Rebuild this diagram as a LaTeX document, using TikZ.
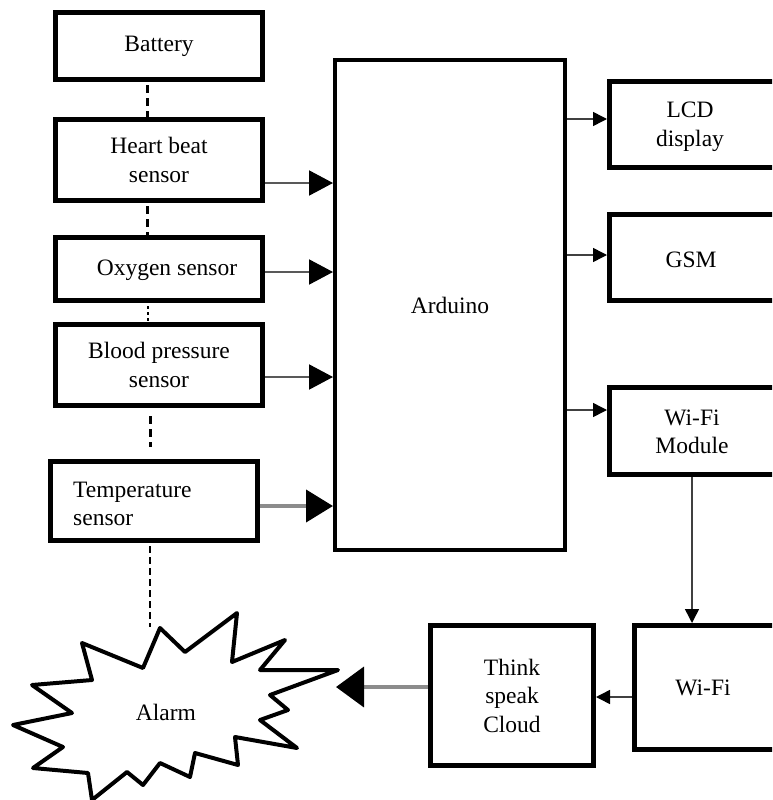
\documentclass[tikz,border=0pt]{standalone}
\usepackage{fontspec}
\setmainfont{Liberation Serif}
\usetikzlibrary{arrows.meta}
\begin{document}
\begin{tikzpicture}[x=1pt,y=-1pt,
  box/.style={draw, line width=5pt, fill=white, inner sep=0pt, font=\fontsize{23.5}{28.5}\selectfont, align=center},
  txt/.style={font=\fontsize{23.5}{28.5}\selectfont, align=center, inner sep=0pt},
  dsh/.style={line width=3pt, dash pattern=on 8pt off 5pt},
  bigarrow/.style={draw=black!65, line width=2pt, -{Triangle[length=24pt,width=25pt,color=black]}},
  grayarrow/.style={draw=black!45, line width=4pt, -{Triangle[length=27pt,width=32pt,color=black]}},
  smallarrow/.style={draw=black!75, line width=1.5pt, -{Triangle[length=14pt,width=14pt,color=black]}}]
\useasboundingbox (0,0) rectangle (772,800);
\clip (0,0) rectangle (772,800);

% left column boxes
\node[box, minimum width=207pt, minimum height=67pt] (battery) at (159,46) {Battery};
\node[box, minimum width=207pt, minimum height=81pt] (heart) at (159,160) {Heart beat\\sensor};
\node[box, minimum width=207pt, minimum height=63pt] (oxygen) at (159,269) {};
\node[txt] (oxytext) at (167,270) {Oxygen sensor};
\node[box, minimum width=207pt, minimum height=81pt] (bp) at (159,365) {Blood pressure\\sensor};
\node[box, minimum width=207pt, minimum height=79pt] (temp) at (154,501) {};
\node[txt, anchor=west, align=left] (temptext) at (73,504) {Temperature\\sensor};

% Arduino
\node[draw, line width=4pt, minimum width=230pt, minimum height=490pt, inner sep=0pt,
      font=\fontsize{23.5}{28.5}\selectfont] (arduino) at (450,305) {Arduino};

% right boxes (cut at the right edge)
\node[box, minimum width=190.5pt, minimum height=86pt] (lcd) at (704.75,124.5) {};
\node[txt] (lcdtext) at (690,127) {LCD\\display};
\node[box, minimum width=190.5pt, minimum height=86pt] (gsm) at (704.75,257.5) {};
\node[txt] (gsmtext) at (691,260) {GSM};
\node[box, minimum width=190.5pt, minimum height=87pt] (wifimod) at (704.75,431) {};
\node[txt] (wifimodtext) at (692,432) {Wi-Fi\\Module};
\node[box, minimum width=165.5pt, minimum height=123.5pt] (wifi) at (717.25,687.25) {};
\node[txt] (wifitext) at (703,688) {Wi-Fi};
\node[box, minimum width=163pt, minimum height=140pt] (cloud) at (512,695.5) {Think\\speak\\Cloud};

% alarm starburst
\draw[line width=4pt, line join=round, fill=white]
  (160,628) -- (185,652) -- (237,613) -- (232,662) -- (285,640) -- (260,670) --
  (338,670) -- (270,695) -- (288,710) -- (260,720) -- (297,748) -- (235,737) --
  (238,765) -- (195,753) -- (190,777) -- (160,763) -- (143,785) -- (127,772) --
  (92,800) -- (88,773) -- (33,768) -- (63,747) -- (13,725) -- (72,713) --
  (32,685) -- (92,680) -- (82,643) -- (143,668) -- cycle;
\node[txt] (alarm) at (166,712) {Alarm};
\coordinate (alarmtop) at (150,627);
\coordinate (alarmtip) at (336,687);

% dashed links on the left
\draw[dsh] (battery.south -| 147,0) ++(0,3) -- (heart.north -| 147,0);
\draw[dsh] (heart.south -| 147,0) ++(0,3) -- (oxygen.north -| 147,0);
\draw[line width=1.5pt, dash pattern=on 3pt off 3pt] (oxygen.south -| 148,0) ++(0,3) -- (bp.north -| 148,0);
\draw[dsh] (150,416) -- (150,447);
\draw[line width=2.5pt, dash pattern=on 7pt off 4pt] (temp.south -| 150,0) ++(0,3) -- (alarmtop);

% sensor arrows into Arduino
\draw[bigarrow] (heart.east |- 0,183) -- (arduino.west |- 0,183);
\draw[bigarrow] (oxygen.east |- 0,272) -- (arduino.west |- 0,272);
\draw[bigarrow] (bp.east |- 0,377) -- (arduino.west |- 0,377);
\draw[grayarrow] (temp.east |- 0,506) -- (arduino.west |- 0,506);

% Arduino outputs
\draw[smallarrow] (arduino.east |- 0,119) -- (lcd.west |- 0,119);
\draw[smallarrow] (arduino.east |- 0,255) -- (gsm.west |- 0,255);
\draw[smallarrow] (arduino.east |- 0,410) -- (wifimod.west |- 0,410);

% Wi-Fi chain
\draw[smallarrow] (wifimod.south -| 692,0) -- (wifi.north -| 692,0);
\draw[smallarrow] (wifi.west |- 0,697) -- (cloud.east |- 0,697);
\draw[draw=black!45, line width=4pt, -{Triangle[length=28pt,width=40pt,color=black]}] (cloud.west |- alarmtip) -- (alarmtip);
\end{tikzpicture}
\end{document}
